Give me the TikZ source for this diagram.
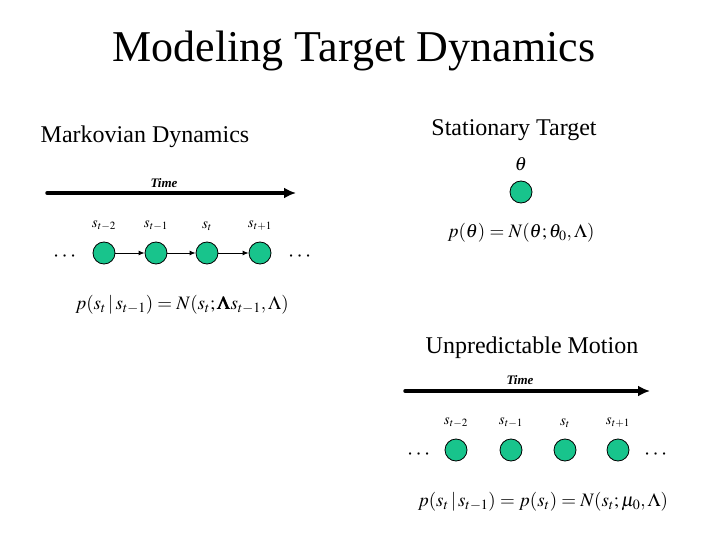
\documentclass[tikz,border=0pt]{standalone}
\usepackage{mathptmx}
\usepackage{amsmath}
\usepackage[no-math]{fontspec}
\setmainfont{Liberation Serif}
\usepackage{tikz}
\usetikzlibrary{calc, positioning, arrows.meta}

\definecolor{nodegreen}{RGB}{24,196,140}

\tikzset{
	state/.style={circle, draw=black, line width=0.8pt, fill=nodegreen, minimum size=22pt, inner sep=0pt},
	timearrow/.style={line width=3.5pt, -{Latex[length=12pt, width=11pt]}},
	chain/.style={line width=1pt, -{Latex[length=6pt, width=5pt]}},
	heading/.style={font=\fontsize{24}{28}\selectfont},
	timelabel/.style={font=\fontsize{13}{15}\selectfont\bfseries\itshape},
	statelabel/.style={font=\fontsize{15}{18}\selectfont},
	dots/.style={font=\fontsize{22}{26}\selectfont},
	formula/.style={font=\fontsize{19}{23}\selectfont},
}

\begin{document}
\begin{tikzpicture}[x=1pt, y=-1pt, line cap=round, line join=round]
\useasboundingbox (0,0) rectangle (720,540);

\node[font=\fontsize{44}{50}\selectfont] (title) at (354,51) {Modeling Target Dynamics};

% Markovian dynamics
\begin{scope}
	\node[heading] (markov) at (145,137) {Markovian Dynamics};

	\coordinate (TL) at (47,193);
	\coordinate (TR) at (296,193);
	\draw[timearrow] (TL) -- (TR);
	\node[timelabel] (time1) at (164,183) {Time};

	\node[state] (a1) at (104,253) {};
	\node[state] (a2) at (156,253) {};
	\node[state] (a3) at (207,253) {};
	\node[state] (a4) at (260,253) {};

	\node[statelabel] at (104,226) {$s_{t-2}$};
	\node[statelabel] at (156,226) {$s_{t-1}$};
	\node[statelabel] at (207,226) {$s_{t}$};
	\node[statelabel] at (260,226) {$s_{t+1}$};

	\draw[chain] (a1) -- (a2);
	\draw[chain] (a2) -- (a3);
	\draw[chain] (a3) -- (a4);

	\node[dots] (ldots1) at (66,257) {$\cdots$};
	\node[dots] (rdots1) at (301,257) {$\cdots$};

	\node[formula] (eq1) at (182,305) {$p(s_t\,|\,s_{t-1}) = N(s_t;\pmb{\Lambda} s_{t-1},\Lambda)$};
\end{scope}

% Stationary target
\begin{scope}
	\node[heading] (stat) at (514,130) {Stationary Target};
	\node[state] (th) at (521,192) {};
	\node[formula] at (521,164) {$\theta$};
	\node[formula] (eq2) at (521,233) {$p(\theta) = N(\theta;\theta_0,\Lambda)$};
\end{scope}

% Unpredictable motion
\begin{scope}
	\node[heading] (unpred) at (532,348) {Unpredictable Motion};

	\coordinate (BL) at (405,391);
	\coordinate (BR) at (650,391);
	\draw[timearrow] (BL) -- (BR);
	\node[timelabel] (time2) at (520,380) {Time};

	\node[state] (b1) at (456,450) {};
	\node[state] (b2) at (511,450) {};
	\node[state] (b3) at (565,450) {};
	\node[state] (b4) at (618,450) {};

	\node[statelabel] at (456,423) {$s_{t-2}$};
	\node[statelabel] at (511,423) {$s_{t-1}$};
	\node[statelabel] at (565,423) {$s_{t}$};
	\node[statelabel] at (618,423) {$s_{t+1}$};

	\node[dots] (ldots2) at (420,455) {$\cdots$};
	\node[dots] (rdots2) at (657,455) {$\cdots$};

	\node[formula] (eq3) at (543,502) {$p(s_t\,|\,s_{t-1}) = p(s_t) = N(s_t;\mu_0,\Lambda)$};
\end{scope}

\end{tikzpicture}
\end{document}
